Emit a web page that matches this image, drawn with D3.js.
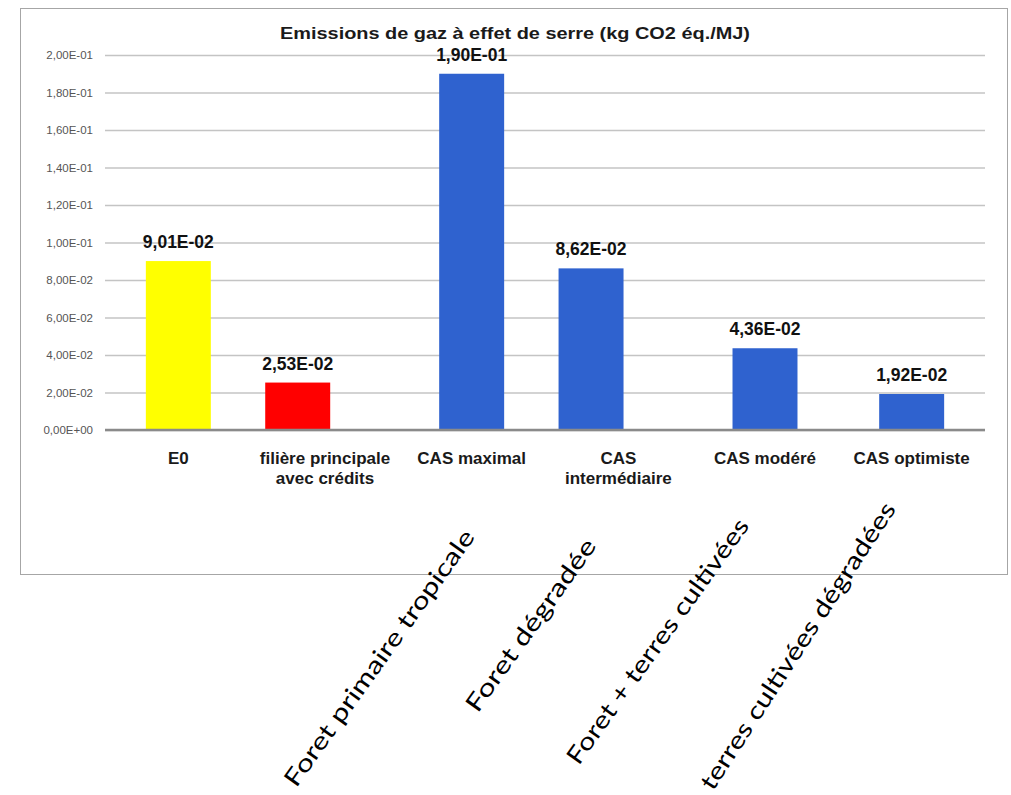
<!DOCTYPE html>
<html>
<head>
<meta charset="utf-8">
<script src="https://cdn.jsdelivr.net/npm/d3@7"></script>
<style>
  html, body { margin: 0; padding: 0; background: #ffffff; }
  svg { display: block; }
</style>
</head>
<body>
<svg id="chart" width="1011" height="795"></svg>
<script>
// Greenhouse-gas emissions per scenario (kg CO2 eq. per MJ)
const categories = ["E0", "filière principale\navec crédits", "CAS maximal", "CAS\nintermédiaire", "CAS modéré", "CAS optimiste"];
const values = [0.0901, 0.0253, 0.190, 0.0862, 0.0436, 0.0192];
// Each bar sits in one slot of a clustered layout (0 = left slot, 1 = centre slot)
const barSlot = [1, 0, 1, 0, 1, 1];
const barColors = ["#ffff00", "#ff0000", "#2f62cf", "#2f62cf", "#2f62cf", "#2f62cf"];
const yTicks = [0, 0.02, 0.04, 0.06, 0.08, 0.10, 0.12, 0.14, 0.16, 0.18, 0.20];
const yTickLabels = ["0,00E+00", "2,00E-02", "4,00E-02", "6,00E-02", "8,00E-02", "1,00E-01",
                     "1,20E-01", "1,40E-01", "1,60E-01", "1,80E-01", "2,00E-01"];
const landUseNotes = ["Foret primaire tropicale", "Foret dégradée", "Foret + terres cultivées", "terres cultivées dégradées"];
const noteCategories = ["CAS maximal", "CAS\nintermédiaire", "CAS modéré", "CAS optimiste"];
const title = "Emissions de gaz à effet de serre (kg CO2 éq./MJ)";

// Scientific notation with a decimal comma, e.g. 9,01E-02
function sciComma(v) {
  if (v === 0) return "0,00E+00";
  let e = Math.floor(Math.log10(Math.abs(v)));
  let m = v / Math.pow(10, e);
  if (Math.round(m * 100) / 100 >= 10) { m /= 10; e += 1; }
  const sign = e < 0 ? "-" : "+";
  return m.toFixed(2).replace(".", ",") + "E" + sign + String(Math.abs(e)).padStart(2, "0");
}

const svg = d3.select("#chart");

// Chart frame
svg.append("rect")
  .attr("x", 20.5).attr("y", 8.5)
  .attr("width", 987).attr("height", 566)
  .attr("fill", "#ffffff")
  .attr("stroke", "#a6a6a6")
  .attr("stroke-width", 1);

const plot = { left: 105, right: 985, top: 55, bottom: 430 };

const x = d3.scaleBand()
  .domain(categories)
  .range([plot.left, plot.right])
  .paddingInner(0.557)
  .paddingOuter(0.2785);

// Slot offset inside a category (overlapping clustered slots)
const slotOffset = d3.scalePoint()
  .domain([0, 1, 2])
  .range([-0.42 * x.bandwidth(), 0.42 * x.bandwidth()]);

const y = d3.scaleLinear()
  .domain([0, 0.2])
  .range([plot.bottom, plot.top]);

const barX = i => x(categories[i]) + slotOffset(barSlot[i]);

// Title
svg.append("text")
  .attr("x", 515).attr("y", 39)
  .attr("text-anchor", "middle")
  .attr("font-family", "'Liberation Sans', Arial, sans-serif")
  .attr("font-weight", "bold")
  .attr("font-size", 17)
  .attr("fill", "#1a1a1a")
  .attr("textLength", 470)
  .attr("lengthAdjust", "spacingAndGlyphs")
  .text(title);

// Value axis with gridlines
const yAxis = d3.axisLeft(y)
  .tickValues(yTicks)
  .tickFormat((d, i) => yTickLabels[i])
  .tickSizeInner(-(plot.right - plot.left))
  .tickSizeOuter(0)
  .tickPadding(12);

const gy = svg.append("g")
  .attr("transform", `translate(${plot.left},0)`)
  .call(yAxis);
gy.select(".domain").remove();
gy.selectAll(".tick line")
  .attr("stroke", "#c4c4c4")
  .attr("stroke-width", 1.5);
gy.selectAll(".tick text")
  .attr("font-family", "'Liberation Sans', Arial, sans-serif")
  .attr("font-size", 11.5)
  .attr("fill", "#555555");

// Bars
svg.append("g").selectAll("rect")
  .data(values)
  .join("rect")
  .attr("x", (d, i) => barX(i))
  .attr("y", d => y(d))
  .attr("width", x.bandwidth())
  .attr("height", d => y(0) - y(d))
  .attr("fill", (d, i) => barColors[i]);

// Baseline
svg.append("line")
  .attr("x1", plot.left).attr("x2", plot.right)
  .attr("y1", y(0)).attr("y2", y(0))
  .attr("stroke", "#8a8a8a")
  .attr("stroke-width", 2.5);

// Value labels
svg.append("g").selectAll("text")
  .data(values)
  .join("text")
  .attr("x", (d, i) => barX(i) + x.bandwidth() / 2)
  .attr("y", d => y(d) - 13)
  .attr("text-anchor", "middle")
  .attr("font-family", "'Liberation Sans', Arial, sans-serif")
  .attr("font-weight", "bold")
  .attr("font-size", 17.5)
  .attr("fill", "#111111")
  .text(d => sciComma(d));

// Category labels (may wrap on two lines)
const catG = svg.append("g");
categories.forEach(c => {
  const t = catG.append("text")
    .attr("text-anchor", "middle")
    .attr("font-family", "'Liberation Sans', Arial, sans-serif")
    .attr("font-weight", "bold")
    .attr("font-size", 17)
    .attr("fill", "#1a1a1a");
  c.split("\n").forEach((line, k) => {
    t.append("tspan")
      .attr("x", x(c) + x.bandwidth() / 2)
      .attr("y", 464 + k * 20)
      .text(line);
  });
});

// Rotated land-use notes under the CAS scenarios
const noteAngles = [-54.5, -54.5, -54.5, -57];
const noteOffsets = [[4, 107], [-21, 116], [-15, 96], [-15, 79]];
const noteLengths = [309, 206, 295, 337];
svg.append("g").selectAll("text")
  .data(landUseNotes)
  .join("text")
  .attr("transform", (d, i) => {
    const cx = x(noteCategories[i]) + x.bandwidth() / 2 + noteOffsets[i][0];
    const cy = plot.bottom + noteOffsets[i][1];
    return `translate(${cx},${cy}) rotate(${noteAngles[i]})`;
  })
  .attr("text-anchor", "end")
  .attr("font-family", "Lato, 'Noto Sans', sans-serif")
  .attr("font-size", 24)
  .attr("fill", "#000000")
  .attr("textLength", (d, i) => noteLengths[i])
  .attr("lengthAdjust", "spacingAndGlyphs")
  .text(d => d);
</script>
</body>
</html>
